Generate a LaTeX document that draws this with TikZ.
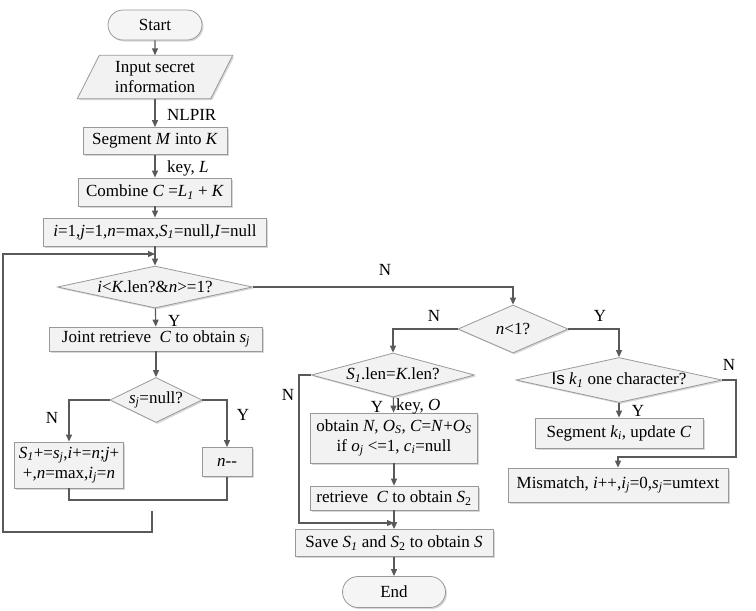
\documentclass[tikz,border=0pt]{standalone}
\usepackage{fontspec}
\setmainfont{Liberation Serif}
\newfontfamily\sansf{Liberation Sans}
\usetikzlibrary{shapes.geometric,shapes.misc,arrows.meta,shadows}
\newcommand\ssub[1]{\textsubscript{\textit{#1}}}
\begin{document}
\begin{tikzpicture}[x=1pt,y=-1pt,
  every node/.style={font=\fontsize{17}{19}\selectfont},
  shad/.style={drop shadow={shadow xshift=1.5pt,shadow yshift=-1.5pt,opacity=0.35,fill=black!45}},
  box/.style={draw=black!40, line width=0.8pt, fill=black!5, shad, inner sep=0pt, align=center},
  term/.style={rounded rectangle, draw=black!40, line width=0.8pt, fill=black!4, shad, inner sep=0pt},
  dec/.style={diamond, draw=black!40, line width=0.8pt, fill=black!5, shad, inner sep=0pt},
  lbl/.style={inner sep=0pt},
  flow/.style={draw=black!65, line width=1.1pt},
  arr/.style={flow, -{Triangle[length=7pt,width=6pt]}}
]
\useasboundingbox (0,0) rectangle (756,611);

% left column
\node[term, minimum width=94pt, minimum height=30pt] (start) at (155,25) {Start};
\node[inner sep=0pt, minimum width=133pt, minimum height=43pt, align=center] (in) at (155,77) {};
\filldraw[draw=black!40, line width=0.8pt, fill=black!5, shad]
  ([xshift=11pt]in.north west) -- ([xshift=11pt]in.north east) -- ([xshift=-11pt]in.south east) -- ([xshift=-11pt]in.south west) -- cycle;
\node[align=center, inner sep=0pt, font=\fontsize{17}{20}\selectfont] at (in.center) {Input secret\\information};
\node[box, minimum width=144pt, minimum height=27pt] (seg) at (155,141) {Segment \textit{M} into \textit{K}};
\node[box, minimum width=153pt, minimum height=28pt] (comb) at (155,192) {Combine \textit{C} =\textit{L}\ssub{1} + \textit{K}};
\node[box, minimum width=223pt, minimum height=28pt] (init) at (155,232) {\textit{i}=1,\textit{j}=1,\textit{n}=max,\textit{S}\ssub{1}=null,\textit{I}=null};
\node[dec, minimum width=195pt, minimum height=42pt, label=center:{\textit{i}<\textit{K}.len?\&\textit{n}>=1?}] (d1) at (155,287) {};
\node[box, minimum width=213pt, minimum height=24pt] (joint) at (156,339) {Joint retrieve~ \textit{C} to obtain \textit{s}\ssub{j}};
\node[dec, minimum width=92pt, minimum height=45pt, label=center:{\textit{s}\ssub{j}=null?}] (d2) at (156,400) {};
\node[box, minimum width=109pt, minimum height=46pt, font=\fontsize{17}{20}\selectfont] (s1b) at (69,465) {\textit{S}\ssub{1}+=\textit{s}\ssub{j},\textit{i}+=\textit{n};\textit{j}+\\+,\textit{n}=max,\textit{i}\ssub{j}=\textit{n}};
\node[box, minimum width=50pt, minimum height=29pt] (nmm) at (227,462) {\textit{n-{}-}};

% middle column
\node[dec, minimum width=110pt, minimum height=48pt, label=center:{\textit{n}<1?}] (d3) at (513,329) {};
\node[dec, minimum width=163pt, minimum height=44pt, label=center:{\textit{S}\ssub{1}.len=\textit{K}.len?}] (d4) at (393,375) {};
\node[box, minimum width=167pt, minimum height=50pt, font=\fontsize{17}{20}\selectfont] (obt) at (394,438) {obtain \textit{N}, \textit{O}\ssub{S}, \textit{C}=\textit{N}+\textit{O}\ssub{S}\\if \textit{o}\ssub{j} <=1, \textit{c}\ssub{i}=null};
\node[box, minimum width=168pt, minimum height=24pt] (retr) at (394,498) {retrieve~ \textit{C} to obtain \textit{S}\textsubscript{2}};
\node[box, minimum width=198pt, minimum height=27pt] (save) at (394,543) {Save \textit{S}\ssub{1} and \textit{S}\textsubscript{2} to obtain \textit{S}};
\node[term, minimum width=103pt, minimum height=31pt] (end) at (394,592) {End};

% right column
\node[dec, minimum width=206pt, minimum height=45pt, label=center:{{\sansf Is} \textit{k}\ssub{1} one character?}] (d5) at (619,380) {};
\node[box, minimum width=168pt, minimum height=30pt] (segk) at (619,433) {Segment \textit{k}\ssub{i}, update \textit{C}};
\node[box, minimum width=220pt, minimum height=34pt] (mism) at (618,485) {Mismatch, \textit{i}++,\textit{i}\ssub{j}=0,\textit{s}\ssub{j}=umtext};

% labels
\node[lbl, anchor=west] (l1) at (167,115) {NLPIR};
\node[lbl, anchor=west] (l2) at (167,168) {key, \textit{L}};
\node[lbl, anchor=west] (l3) at (168,321) {Y};
\node[lbl] (l4) at (385,270) {N};
\node[lbl] (l5) at (52,418) {N};
\node[lbl] (l6) at (243,415) {Y};
\node[lbl] (l7) at (434,316) {N};
\node[lbl] (l8) at (600,316) {Y};
\node[lbl] (l9) at (288,395) {N};
\node[lbl] (l10) at (377,407) {Y};
\node[lbl, anchor=west] (l11) at (396,406) {key, \textit{O}};
\node[lbl] (l12) at (729,365) {N};
\node[lbl] (l13) at (638,411) {Y};

% coordinates
\coordinate (lpin) at (155,254);
\coordinate (lp0) at (152,511);
\coordinate (mrg) at (69,500);
\coordinate (jn) at (394,523);
\coordinate (d4l) at (299,375);
\coordinate (d5r) at (736,380);
\coordinate (d5b) at (736,457);

% connectors
\draw[arr] (start) -- (in);
\draw[arr] (in) -- (seg);
\draw[arr] (seg) -- (comb);
\draw[arr] (comb) -- (init);
\draw[arr] (init) -- (d1);
\draw[arr] (d1) -- (joint);
\draw[arr] (joint) -- (d2);
\draw[arr] (d2.west) -| (s1b.north);
\draw[arr] (d2.east) -| (nmm.north);
\draw[flow] (s1b.south) -- (mrg) -| (nmm.south);
\draw[arr] (lp0) -- (152,532) -- (3,532) -- (3,254) -- (lpin);

\draw[arr] (d1.east) -| (d3.north);
\draw[arr] (d3.west) -| (d4.north);
\draw[arr] (d3.east) -| (d5.north);
\draw[arr] (d4) -- (obt);
\draw[arr] (obt) -- (retr);
\draw[arr] (retr) -- (save);
\draw[arr] (save) -- (end);
\draw[arr] (d4.west) -- (d4l) |- (jn);

\draw[arr] (d5) -- (segk);
\draw[arr] (d5.east) -- (d5r) -- (d5b) -| (mism.north);
\end{tikzpicture}
\end{document}
